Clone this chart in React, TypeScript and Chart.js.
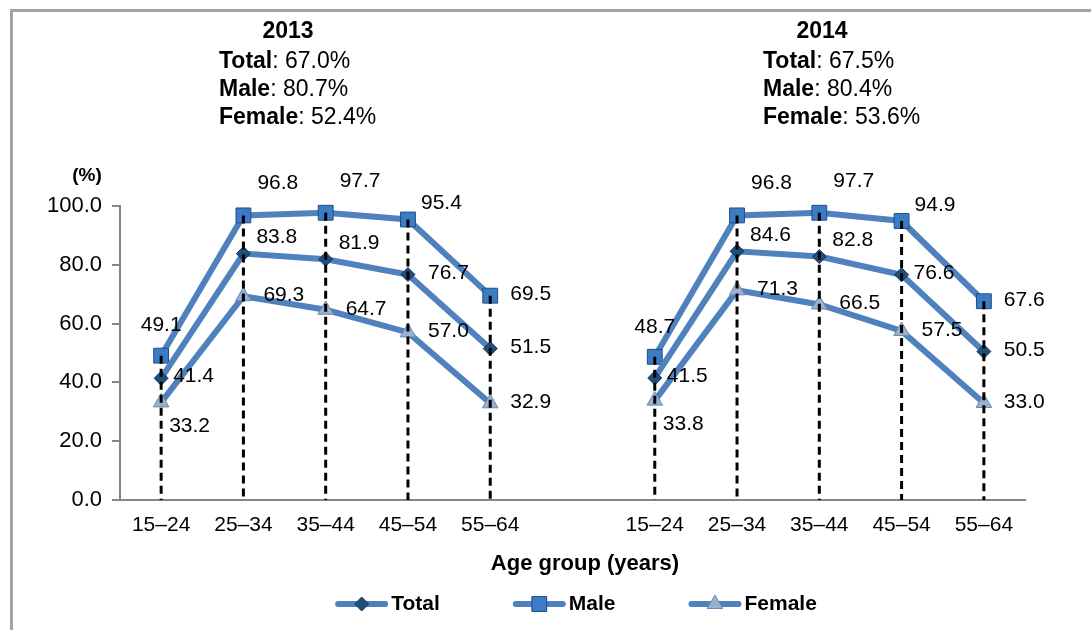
import { useEffect, useRef } from 'react';
import { Chart, registerables } from 'chart.js';

Chart.register(...registerables);

const FONT = '"Liberation Sans", Arial, Helvetica, sans-serif';

// ---------- data ----------
const ageGroups = ['15–24', '25–34', '35–44', '45–54', '55–64'];
const years = ['2013', '2014'];
const seriesNames = ['Total', 'Male', 'Female'];

const total2013 = [41.4, 83.8, 81.9, 76.7, 51.5];
const male2013 = [49.1, 96.8, 97.7, 95.4, 69.5];
const female2013 = [33.2, 69.3, 64.7, 57.0, 32.9];

const total2014 = [41.5, 84.6, 82.8, 76.6, 50.5];
const male2014 = [48.7, 96.8, 97.7, 94.9, 67.6];
const female2014 = [33.8, 71.3, 66.5, 57.5, 33.0];

const summaryTotal = [67.0, 67.5];
const summaryMale = [80.7, 80.4];
const summaryFemale = [52.4, 53.6];

const yTickMin = 0;
const yTickMax = 100;
const yTickStep = 20;

// label placement codes (per point)
const placeTotal2013 = ['rn', 'ur', 'ur', 'r', 'r'];
const placeMale2013 = ['a', 'ar', 'ar', 'ur', 'r'];
const placeFemale2013 = ['br', 'r', 'r', 'r', 'r'];
const placeTotal2014 = ['rn', 'ur', 'ur', 'rn', 'r'];
const placeMale2014 = ['a', 'ar', 'ar', 'ur', 'r'];
const placeFemale2014 = ['br', 'r', 'r', 'r', 'r'];

// ---------- styles ----------
const LINE_COLOR = '#4F81BD';
const placeOffsets: Record<string, { align: CanvasTextAlign; dx: number; dy: number }> = {
  a: { align: 'center', dx: 0, dy: -30 },
  ar: { align: 'left', dx: 14, dy: -32 },
  ur: { align: 'left', dx: 13, dy: -16 },
  rn: { align: 'left', dx: 12, dy: -2 },
  r: { align: 'left', dx: 20, dy: -1 },
  br: { align: 'left', dx: 8, dy: 24 },
};

const markerStyles = [
  { pointStyle: 'rectRot', radius: 7, fill: '#1F4E79', border: '#17375E' },
  { pointStyle: 'rect', radius: 10.5, fill: '#3C7CC6', border: '#1F4E85' },
  { pointStyle: 'triangle', radius: 9, fill: '#9AB0CE', border: '#6F88AD' },
];

const labels = [...ageGroups, '', ...ageGroups];
const seriesData = [
  [...total2013, null, ...total2014],
  [...male2013, null, ...male2014],
  [...female2013, null, ...female2014],
];
const placements = [
  [...placeTotal2013, '', ...placeTotal2014],
  [...placeMale2013, '', ...placeMale2014],
  [...placeFemale2013, '', ...placeFemale2014],
];

function drawMarker(ctx: CanvasRenderingContext2D, kind: number, x: number, y: number) {
  const m = markerStyles[kind];
  ctx.save();
  ctx.fillStyle = m.fill;
  ctx.strokeStyle = m.border;
  ctx.lineWidth = 1;
  ctx.beginPath();
  if (kind === 0) {
    const r = m.radius;
    ctx.moveTo(x, y - r);
    ctx.lineTo(x + r, y);
    ctx.lineTo(x, y + r);
    ctx.lineTo(x - r, y);
    ctx.closePath();
  } else if (kind === 1) {
    const s = m.radius * Math.SQRT1_2;
    ctx.rect(x - s, y - s, 2 * s, 2 * s);
  } else {
    const r = m.radius;
    ctx.moveTo(x, y - r);
    ctx.lineTo(x + r * Math.sin((2 * Math.PI) / 3), y - r * Math.cos((2 * Math.PI) / 3));
    ctx.lineTo(x + r * Math.sin((4 * Math.PI) / 3), y - r * Math.cos((4 * Math.PI) / 3));
    ctx.closePath();
  }
  ctx.fill();
  ctx.stroke();
  ctx.restore();
}

const decorPlugin = {
  id: 'decor',
  beforeDraw(chart: any) {
    const ctx = chart.ctx as CanvasRenderingContext2D;
    ctx.save();
    ctx.fillStyle = '#ffffff';
    ctx.fillRect(0, 0, chart.width, chart.height);
    ctx.strokeStyle = '#A3A3A3';
    ctx.lineWidth = 3;
    ctx.beginPath();
    ctx.moveTo(11.5, chart.height);
    ctx.lineTo(11.5, 10.5);
    ctx.lineTo(chart.width, 10.5);
    ctx.stroke();
    ctx.restore();
  },
  afterDatasetsDraw(chart: any) {
    const ctx = chart.ctx as CanvasRenderingContext2D;
    const area = chart.chartArea;

    // dashed drop lines from the top (Male) point to the axis
    const maleMeta = chart.getDatasetMeta(1);
    ctx.save();
    ctx.setLineDash([8, 5]);
    ctx.lineWidth = 3;
    ctx.strokeStyle = '#000000';
    maleMeta.data.forEach((pt: any, i: number) => {
      if (seriesData[1][i] == null) return;
      ctx.beginPath();
      ctx.moveTo(pt.x, pt.y);
      ctx.lineTo(pt.x, area.bottom);
      ctx.stroke();
    });
    ctx.restore();

    // data labels
    ctx.save();
    ctx.font = `21px ${FONT}`;
    ctx.fillStyle = '#000000';
    ctx.textBaseline = 'middle';
    seriesData.forEach((arr, d) => {
      const meta = chart.getDatasetMeta(d);
      arr.forEach((v, i) => {
        if (v == null) return;
        const pt = meta.data[i];
        const p = placeOffsets[placements[d][i]] || placeOffsets.r;
        ctx.textAlign = p.align;
        ctx.fillText(v.toFixed(1), pt.x + p.dx, pt.y + p.dy);
      });
    });
    ctx.restore();
  },
  afterDraw(chart: any) {
    const ctx = chart.ctx as CanvasRenderingContext2D;
    ctx.save();
    ctx.fillStyle = '#000000';
    ctx.textBaseline = 'middle';

    // summary blocks
    const blockLeft = [219, 763];
    const titleCenter = [288, 822];
    const lineY = [32, 62, 90, 118];
    years.forEach((yr, g) => {
      ctx.font = `bold 23px ${FONT}`;
      ctx.textAlign = 'center';
      ctx.fillText(yr, titleCenter[g], lineY[0]);
      const vals = [summaryTotal[g], summaryMale[g], summaryFemale[g]];
      seriesNames.forEach((name, k) => {
        ctx.textAlign = 'left';
        ctx.font = `bold 23px ${FONT}`;
        ctx.fillText(name, blockLeft[g], lineY[k + 1]);
        const w = ctx.measureText(name).width;
        ctx.font = `23px ${FONT}`;
        ctx.fillText(`: ${vals[k].toFixed(1)}%`, blockLeft[g] + w, lineY[k + 1]);
      });
    });

    // y axis unit
    ctx.font = `bold 19px ${FONT}`;
    ctx.textAlign = 'center';
    ctx.fillText('(%)', 87, 176);

    // x axis title
    ctx.font = `bold 22px ${FONT}`;
    ctx.fillText('Age group (years)', 585, 564);

    // legend
    ctx.font = `bold 21px ${FONT}`;
    const lineLen = 53;
    const gapText = 3;
    const gapItem = 73;
    const widths = seriesNames.map((n) => lineLen + gapText + ctx.measureText(n).width);
    const totalW = widths.reduce((a, b) => a + b, 0) + gapItem * (seriesNames.length - 1);
    let x = 576 - totalW / 2;
    const ly = 604;
    seriesNames.forEach((n, k) => {
      ctx.save();
      ctx.strokeStyle = LINE_COLOR;
      ctx.lineWidth = 6;
      ctx.lineCap = 'round';
      ctx.beginPath();
      ctx.moveTo(x + 3, ly);
      ctx.lineTo(x + lineLen - 3, ly);
      ctx.stroke();
      ctx.restore();
      drawMarker(ctx, k, x + lineLen / 2, ly);
      ctx.textAlign = 'left';
      ctx.fillStyle = '#000000';
      ctx.fillText(n, x + lineLen + gapText, ly);
      x += widths[k] + gapItem;
    });
    ctx.restore();
  },
};

export default function App() {
  const ref = useRef<HTMLCanvasElement | null>(null);

  useEffect(() => {
    if (!ref.current) return;
    const chart = new Chart(ref.current, {
      type: 'line',
      data: {
        labels,
        datasets: seriesData.map((data, k) => ({
          label: seriesNames[k],
          data,
          borderColor: LINE_COLOR,
          borderWidth: 6,
          pointStyle: markerStyles[k].pointStyle as any,
          pointRadius: markerStyles[k].radius,
          pointBackgroundColor: markerStyles[k].fill,
          pointBorderColor: markerStyles[k].border,
          pointBorderWidth: 1,
          tension: 0,
          spanGaps: false,
          fill: false,
          clip: false as any,
        })),
      },
      options: {
        animation: false,
        responsive: true,
        maintainAspectRatio: false,
        events: [],
        layout: { padding: { left: 0, top: 206, right: 66, bottom: 0 } },
        plugins: {
          legend: { display: false },
          tooltip: { enabled: false },
          title: { display: false },
        },
        scales: {
          x: {
            type: 'category',
            offset: true,
            grid: { drawOnChartArea: false, drawTicks: false },
            border: { display: true, color: '#868686', width: 2 },
            ticks: {
              color: '#000000',
              font: { family: FONT, size: 21 },
              padding: 13,
              autoSkip: false,
              maxRotation: 0,
            },
            afterFit: (s: any) => {
              s.height = 130;
            },
          },
          y: {
            min: yTickMin,
            max: yTickMax,
            grid: {
              drawOnChartArea: false,
              drawTicks: true,
              tickLength: 8,
              color: '#868686',
              lineWidth: 2,
            },
            border: { display: true, color: '#868686', width: 2 },
            ticks: {
              stepSize: yTickStep,
              color: '#000000',
              font: { family: FONT, size: 22 },
              padding: 10,
              callback: (v: any) => Number(v).toFixed(1),
            },
            afterFit: (s: any) => {
              s.width = 120;
            },
          },
        },
      },
      plugins: [decorPlugin],
    });
    return () => chart.destroy();
  }, []);

  return (
    <div
      style={{
        position: 'fixed',
        left: 0,
        top: 0,
        width: 1091,
        height: 630,
        background: '#ffffff',
      }}
    >
      <canvas ref={ref} style={{ width: '1091px', height: '630px' }} />
    </div>
  );
}
